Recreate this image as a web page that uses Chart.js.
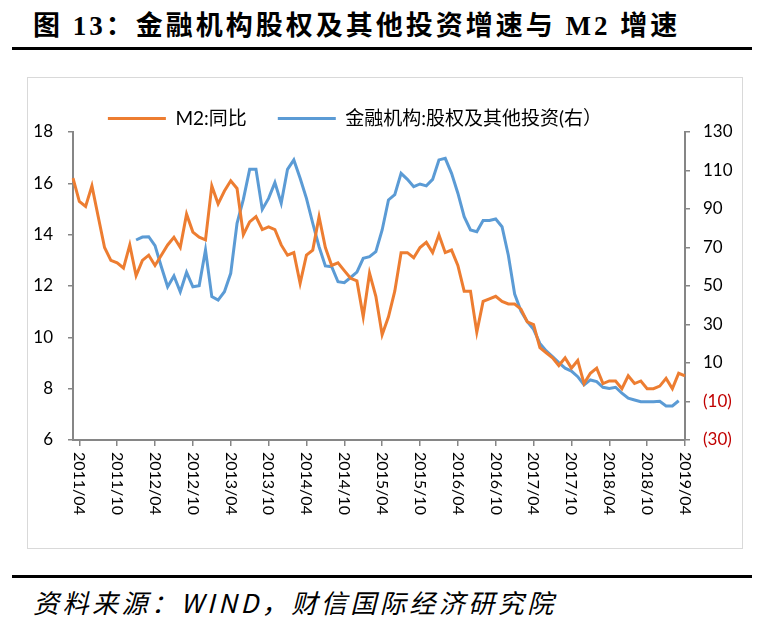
<!DOCTYPE html>
<html>
<head>
<meta charset="utf-8">
<script src="https://cdn.jsdelivr.net/npm/chart.js@4.4.1/dist/chart.umd.min.js"></script>
<style>
  body { margin: 0; background: #fff; width: 766px; height: 628px; position: relative; overflow: hidden; }
  #title { position: absolute; left: 33px; top: 13px; font: bold 27px/1 "Liberation Serif", "Noto Sans CJK SC"; letter-spacing: 3px; white-space: nowrap; color: #000; }
  .rule { position: absolute; left: 12px; width: 740px; height: 3px; background: #000; }
  #box { position: absolute; left: 27px; top: 77px; width: 714px; height: 470px; border: 1px solid #d9d9d9; }
  #src { position: absolute; left: 33px; top: 589px; font: italic 26px/1 "Noto Sans CJK SC"; letter-spacing: 3.5px; white-space: nowrap; color: #000; }
</style>
</head>
<body>
<div id="title">图 13：金融机构股权及其他投资增速与 M2 增速</div>
<div class="rule" style="top:47px"></div>
<div id="box"><canvas id="c" width="714" height="470"></canvas></div>
<div class="rule" style="top:575px"></div>
<div id="src">资料来源：WIND，财信国际经济研究院</div>
<script>
"use strict";

// months 2011/03 .. 2019/04
const months = [];
for (let y = 2011, m = 3; y < 2019 || (y === 2019 && m <= 4); m++) {
    if (m > 12) { m = 1; y++; }
    months.push(y + '/' + String(m).padStart(2, '0'));
}

const tickLabels = ['2011/04', '2011/10', '2012/04', '2012/10', '2013/04', '2013/10', '2014/04', '2014/10',
    '2015/04', '2015/10', '2016/04', '2016/10', '2017/04', '2017/10', '2018/04', '2018/10', '2019/04'];

const m2Yoy = [
    16.2, 15.3, 15.1, 15.9, 14.7, 13.5, 13.0, 12.9, 12.7, 13.6,
    12.4, 13.0, 13.2, 12.8, 13.2, 13.6, 13.9, 13.5, 14.8, 14.1,
    13.9, 13.8, 15.9, 15.2, 15.7, 16.1, 15.8, 14.0, 14.5, 14.7,
    14.2, 14.3, 14.2, 13.6, 13.2, 13.3, 12.1, 13.2, 13.4, 14.7,
    13.5, 12.8, 12.9, 12.6, 12.3, 12.2, 10.8, 12.5, 11.6, 10.1,
    10.8, 11.8, 13.3, 13.3, 13.1, 13.5, 13.7, 13.3, 14.0, 13.3,
    13.4, 12.8, 11.8, 11.8, 10.2, 11.4, 11.5, 11.6, 11.4, 11.3,
    11.3, 11.1, 10.6, 10.5, 9.6, 9.4, 9.2, 8.9, 9.2, 8.8,
    9.1, 8.2, 8.6, 8.8, 8.2, 8.3, 8.3, 8.0, 8.5, 8.2,
    8.3, 8.0, 8.0, 8.1, 8.4, 8.0, 8.6, 8.5
];

const equityInv = [
    null, null, null, null, null, null, null, null, null, null,
    73.9, 75.4, 75.6, 71.0, 60.0, 49.6, 55.2, 47.0, 57.1, 49.6,
    50.2, 68.7, 44.5, 42.7, 47.0, 56.6, 82.6, 95.0, 110.6, 110.6,
    89.8, 95.5, 103.7, 93.0, 110.6, 115.5, 106.0, 95.5, 82.6, 70.4,
    60.4, 60.0, 52.2, 51.7, 54.4, 57.2, 64.4, 65.2, 67.8, 79.1,
    94.7, 97.5, 108.5, 105.4, 101.6, 103.0, 102.0, 105.4, 115.5, 116.3,
    108.5, 98.2, 86.0, 79.1, 78.2, 84.0, 84.0, 84.8, 80.8, 66.0,
    45.8, 37.0, 31.5, 27.5, 20.2, 16.3, 13.3, 10.2, 7.3, 5.8,
    2.9, -1.4, 1.2, 0.3, -2.6, -3.2, -2.6, -5.7, -8.3, -9.2,
    -10.1, -10.1, -10.1, -9.9, -12.3, -12.3, -9.6, null
];

const AXIS = '#868686';
Chart.defaults.font.family = "Lato, 'Noto Sans CJK SC'";
Chart.defaults.font.size = 17;
Chart.defaults.color = '#000';

// legend height fixed, shifted a bit left like the original
const legendPos = {
    id: 'legendPos',
    afterInit(chart) {
        const lg = chart.legend;
        const fit = lg.fit;
        lg.fit = function () { fit.call(this); this.height = 54; };
    },
    afterLayout(chart) {
        chart.legend.left -= 30;
        chart.legend.right -= 30;
    }
};

// date labels read top to bottom
const xLabels = {
    id: 'xLabels',
    afterDraw(chart) {
        const sc = chart.scales.x, c = chart.ctx;
        c.save();
        c.font = '16px Lato';
        c.fillStyle = '#000';
        c.textAlign = 'left';
        c.textBaseline = 'middle';
        sc.ticks.forEach((t, i) => {
            c.save();
            c.translate(sc.getPixelForTick(i), sc.top + 12);
            c.rotate(Math.PI / 2);
            c.fillText(months[t.value], 0, 0);
            c.restore();
        });
        c.restore();
    }
};

new Chart(document.getElementById('c'), {
    type: 'line',
    data: {
        labels: months,
        datasets: [{
            label: 'M2:同比',
            data: m2Yoy,
            borderColor: '#ED7D31',
            backgroundColor: '#ED7D31',
            borderWidth: 3,
            pointRadius: 0,
            tension: 0,
            yAxisID: 'y'
        }, {
            label: '金融机构:股权及其他投资(右）',
            data: equityInv,
            borderColor: '#5B9BD5',
            backgroundColor: '#5B9BD5',
            borderWidth: 3,
            pointRadius: 0,
            tension: 0,
            yAxisID: 'y1'
        }]
    },
    options: {
        responsive: false,
        animation: false,
        layout: { padding: 0 },
        plugins: {
            legend: {
                labels: {
                    usePointStyle: true,
                    pointStyle: 'line',
                    pointStyleWidth: 58,
                    padding: 31,
                    font: { size: 19 }
                }
            },
            tooltip: { enabled: false }
        },
        scales: {
            x: {
                offset: false,
                afterBuildTicks: s => { s.ticks = s.ticks.filter(t => tickLabels.includes(months[t.value])); },
                afterFit: s => { s.height = 108; },
                ticks: { display: false, autoSkip: false },
                grid: { drawOnChartArea: false, color: AXIS, tickLength: 6, lineWidth: 1.5 },
                border: { color: AXIS, width: 2 }
            },
            y: {
                position: 'left',
                min: 6, max: 18,
                afterFit: s => { s.width = 45; },
                ticks: { stepSize: 2, padding: 15 },
                grid: { drawOnChartArea: false, color: AXIS, tickLength: 5, lineWidth: 1.5 },
                border: { color: AXIS, width: 2 }
            },
            y1: {
                position: 'right',
                min: -30, max: 130,
                afterFit: s => { s.width = 57; },
                ticks: {
                    stepSize: 20,
                    padding: 13,
                    callback: v => v < 0 ? '(' + (-v) + ')' : String(v),
                    color: ctx => ctx.tick && ctx.tick.value < 0 ? '#C00000' : '#000'
                },
                grid: { drawOnChartArea: false, color: AXIS, tickLength: 5, lineWidth: 1.5 },
                border: { color: AXIS, width: 2 }
            }
        }
    },
    plugins: [legendPos, xLabels]
});
</script>
</body>
</html>
